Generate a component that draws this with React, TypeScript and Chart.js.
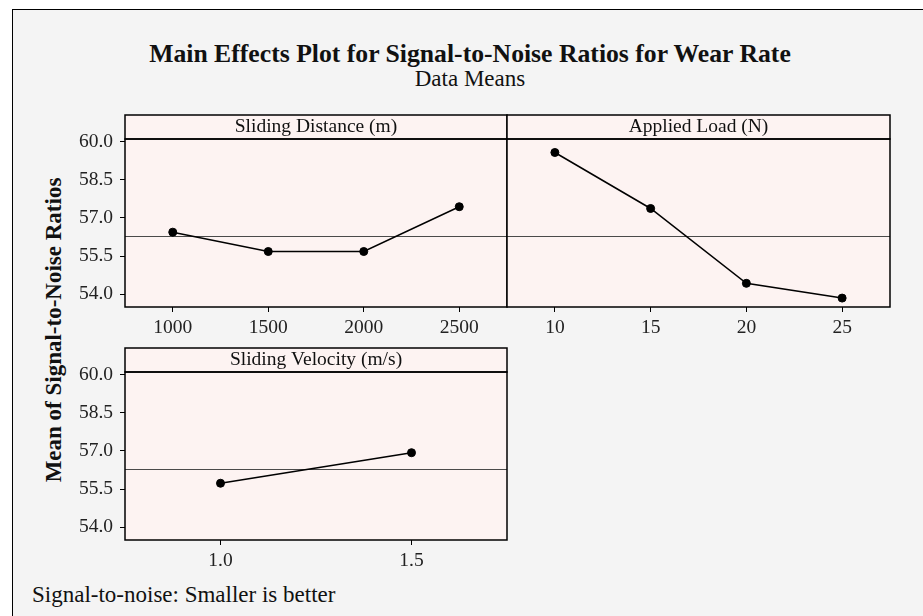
import React, { useEffect, useRef } from 'react';
import { Chart, registerables } from 'chart.js';

Chart.register(...registerables);

// Shared response axis
const yTickValues = [54.0, 55.5, 57.0, 58.5, 60.0];
const yMin = 53.5;
const yMax = 60.1;
const grandMean = 56.3;

// Factor levels and mean S/N ratio at each level
const distanceLevels = ['1000', '1500', '2000', '2500'];
const distanceSN = [56.44, 55.68, 55.68, 57.44];

const loadLevels = ['10', '15', '20', '25'];
const loadSN = [59.57, 57.37, 54.43, 53.85];

const velocityLevels = ['1.0', '1.5'];
const velocitySN = [55.73, 56.93];

const FONT = "'Liberation Serif', 'Times New Roman', serif";
const PANEL_FILL = '#fdf3f2';
const HEADER_H = 24;
const Y_AXIS_W = 70;
const X_AXIS_H = 40;
const PAD = 5;

const panelPlugin = {
  id: 'panelFrame',
  beforeDraw(chart: any) {
    const { ctx, chartArea: a } = chart;
    ctx.save();
    ctx.fillStyle = PANEL_FILL;
    ctx.fillRect(a.left, a.top - HEADER_H, a.right - a.left, HEADER_H);
    ctx.fillRect(a.left, a.top, a.right - a.left, a.bottom - a.top);
    ctx.restore();
  },
  beforeDatasetsDraw(chart: any) {
    const { ctx, chartArea: a, scales } = chart;
    const y = Math.round(scales.y.getPixelForValue(grandMean)) + 0.5;
    ctx.save();
    ctx.strokeStyle = '#4a4a4a';
    ctx.lineWidth = 1.2;
    ctx.beginPath();
    ctx.moveTo(a.left, y);
    ctx.lineTo(a.right, y);
    ctx.stroke();
    ctx.restore();
  },
  afterDraw(chart: any) {
    const { ctx, chartArea: a } = chart;
    ctx.save();
    ctx.strokeStyle = '#000';
    ctx.lineWidth = 1.5;
    ctx.strokeRect(a.left, a.top - HEADER_H, a.right - a.left, HEADER_H);
    ctx.strokeRect(a.left, a.top, a.right - a.left, a.bottom - a.top);
    ctx.restore();
  },
};

type PanelProps = {
  title: string;
  labels: string[];
  values: number[];
  showY: boolean;
  x: number; // plot area left
  y: number; // plot area top (below header)
  w: number;
  h: number;
};

function Panel({ title, labels, values, showY, x, y, w, h }: PanelProps) {
  const ref = useRef<HTMLCanvasElement | null>(null);
  const leftSpace = showY ? Y_AXIS_W : PAD;
  const cw = leftSpace + w + PAD;
  const ch = PAD + HEADER_H + h + X_AXIS_H;

  useEffect(() => {
    if (!ref.current) return;
    const chart = new Chart(ref.current, {
      type: 'line',
      data: {
        labels,
        datasets: [
          {
            data: values,
            borderColor: '#000',
            borderWidth: 1.5,
            pointRadius: 4,
            pointBackgroundColor: '#000',
            pointBorderColor: '#000',
            pointBorderWidth: 1,
            tension: 0,
          },
        ],
      },
      options: {
        animation: false,
        responsive: false,
        maintainAspectRatio: false,
        layout: { padding: { left: showY ? 0 : PAD, right: PAD, top: PAD, bottom: 0 } },
        plugins: {
          legend: { display: false },
          tooltip: { enabled: false },
          title: {
            display: true,
            text: title,
            fullSize: false,
            color: '#111',
            padding: 0,
            font: { family: FONT, size: 19.5, weight: 'normal', lineHeight: HEADER_H + 'px' },
          },
        },
        scales: {
          x: {
            type: 'category',
            offset: true,
            grid: {
              offset: false,
              drawOnChartArea: false,
              drawTicks: true,
              tickLength: 5,
              color: '#000',
              lineWidth: 1,
            },
            border: { display: false },
            ticks: {
              color: '#222',
              padding: 4,
              maxRotation: 0,
              font: { family: FONT, size: 19.5 },
            },
            afterFit(scale: any) {
              scale.height = X_AXIS_H;
            },
          },
          y: {
            type: 'linear',
            display: showY,
            min: yMin,
            max: yMax,
            grid: {
              drawOnChartArea: false,
              drawTicks: true,
              tickLength: 5,
              color: '#000',
              lineWidth: 1,
            },
            border: { display: false },
            afterBuildTicks(scale: any) {
              scale.ticks = yTickValues.map((v) => ({ value: v }));
            },
            ticks: {
              color: '#222',
              padding: 7,
              font: { family: FONT, size: 19.5 },
              callback: (v: any) => Number(v).toFixed(1),
            },
            afterFit(scale: any) {
              scale.width = showY ? Y_AXIS_W : 0;
            },
          },
        },
      },
      plugins: [panelPlugin],
    });
    return () => chart.destroy();
  }, []);

  return (
    <canvas
      ref={ref}
      width={cw}
      height={ch}
      style={{
        position: 'absolute',
        left: x - leftSpace,
        top: y - HEADER_H - PAD,
        width: cw,
        height: ch,
      }}
    />
  );
}

export default function App() {
  return (
    <div
      style={{
        position: 'fixed',
        left: 0,
        top: 0,
        width: 923,
        height: 616,
        overflow: 'hidden',
        background: '#fff',
        fontFamily: FONT,
      }}
    >
      <div
        style={{
          position: 'absolute',
          left: 12,
          top: 9,
          width: 960,
          height: 660,
          background: '#f4f4f4',
          borderLeft: '1px solid #000',
          borderTop: '1px solid #000',
        }}
      />
      <div
        style={{
          position: 'absolute',
          left: 0,
          width: 940,
          top: 39,
          textAlign: 'center',
          fontWeight: 'bold',
          fontSize: 25.7,
          color: '#111',
          lineHeight: '30px',
          whiteSpace: 'nowrap',
        }}
      >
        Main Effects Plot for Signal-to-Noise Ratios for Wear Rate
      </div>
      <div
        style={{
          position: 'absolute',
          left: 0,
          width: 940,
          top: 66,
          textAlign: 'center',
          fontSize: 23,
          color: '#111',
          lineHeight: '26px',
        }}
      >
        Data Means
      </div>
      <div
        style={{
          position: 'absolute',
          left: 54,
          top: 330,
          transform: 'translate(-50%, -50%) rotate(-90deg)',
          whiteSpace: 'nowrap',
          fontWeight: 'bold',
          fontSize: 23,
          color: '#111',
        }}
      >
        Mean of Signal-to-Noise Ratios
      </div>

      <Panel title="Sliding Distance (m)" labels={distanceLevels} values={distanceSN} showY x={125} y={139} w={382} h={168} />
      <Panel title="Applied Load (N)" labels={loadLevels} values={loadSN} showY={false} x={507} y={139} w={383} h={168} />
      <Panel title="Sliding Velocity (m/s)" labels={velocityLevels} values={velocitySN} showY x={125} y={372} w={382} h={168} />

      <div
        style={{
          position: 'absolute',
          left: 32,
          top: 582,
          fontSize: 23,
          color: '#111',
          lineHeight: '26px',
          whiteSpace: 'nowrap',
        }}
      >
        Signal-to-noise: Smaller is better
      </div>
    </div>
  );
}
